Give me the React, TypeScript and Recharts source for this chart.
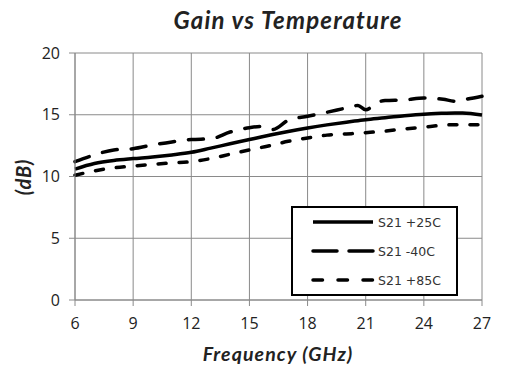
import React from "react";
import { LineChart, Line, XAxis, YAxis, CartesianGrid } from "recharts";

const freqGHz = [6, 7, 8, 9, 10, 11, 12, 13, 14, 15, 15.6, 16.2, 17, 18, 19, 20, 20.6, 21, 21.6, 22, 23, 24, 25, 25.6, 26, 27];
const s21p25 = [10.6, 11.05, 11.3, 11.45, 11.58, 11.75, 11.96, 12.3, 12.65, 12.99, 13.2, 13.4, 13.65, 13.93, 14.18, 14.4, 14.52, 14.6, 14.7, 14.76, 14.92, 15.05, 15.12, 15.15, 15.14, 14.98];
const s21m40 = [11.2, 11.75, 12.15, 12.25, 12.55, 12.8, 13.0, 13.05, 13.6, 13.95, 14.05, 13.8, 14.55, 14.88, 15.2, 15.55, 15.75, 15.4, 16.0, 16.15, 16.2, 16.35, 16.25, 16.1, 16.2, 16.5];
const s21p85 = [10.1, 10.45, 10.7, 10.85, 10.98, 11.1, 11.2, 11.45, 11.8, 12.15, 12.35, 12.55, 12.85, 13.12, 13.35, 13.45, 13.5, 13.55, 13.62, 13.68, 13.85, 14.0, 14.15, 14.2, 14.2, 14.2];
const xTicks = [6, 9, 12, 15, 18, 21, 24, 27];
const yTicks = [0, 5, 10, 15, 20];
const seriesNames = ["S21 +25C", "S21 -40C", "S21 +85C"];

const data = freqGHz.map((f, i) => ({ f, a: s21p25[i], b: s21m40[i], c: s21p85[i] }));

const FONT = "Lato, 'Open Sans', sans-serif";
const TICKFONT = "'Open Sans', sans-serif";

const legendDash = ["", "24 12", "9.5 15.5"];

export default function App() {
  return (
    <div style={{ position: "absolute", left: 0, top: 0, width: 519, height: 379, background: "#fff" }}>
      <LineChart
        width={519}
        height={379}
        data={data}
        margin={{ top: 53, right: 37, bottom: 0, left: 0 }}
      >
        <CartesianGrid stroke="#8a8a8a" strokeWidth={1} />
        <XAxis
          dataKey="f"
          type="number"
          domain={[6, 27]}
          ticks={xTicks}
          height={79}
          stroke="#8a8a8a"
          tickSize={6}
          tickMargin={12}
          tick={{ fill: "#222", fontSize: 16, fontFamily: TICKFONT }}
        />
        <YAxis
          type="number"
          domain={[0, 20]}
          ticks={yTicks}
          width={75}
          stroke="#8a8a8a"
          tickSize={6}
          tickMargin={9}
          tick={{ fill: "#222", fontSize: 16, fontFamily: TICKFONT }}
        />
        <Line dataKey="a" type="monotone" stroke="#000" strokeWidth={3.5} dot={false} isAnimationActive={false} />
        <Line dataKey="b" type="monotone" stroke="#000" strokeWidth={3.5} strokeDasharray="15 14" strokeLinecap="round" dot={false} isAnimationActive={false} />
        <Line dataKey="c" type="monotone" stroke="#000" strokeWidth={3.5} strokeDasharray="8 13" strokeLinecap="round" dot={false} isAnimationActive={false} />
      </LineChart>
      <div style={{ position: "absolute", left: 0, top: 6, width: 576, textAlign: "center", fontFamily: FONT, fontWeight: 700, fontStyle: "italic", fontSize: 24, letterSpacing: 1.2, color: "#222", lineHeight: "28px" }}>
        Gain vs Temperature
      </div>
      <div style={{ position: "absolute", left: 0, top: 342, width: 556, textAlign: "center", fontFamily: FONT, fontWeight: 700, fontStyle: "italic", fontSize: 19.5, letterSpacing: 1.1, color: "#222", lineHeight: "24px" }}>
        Frequency (GHz)
      </div>
      <div style={{ position: "absolute", left: 23, top: 177, width: 0, height: 0 }}>
        <div style={{ position: "absolute", left: -40, top: -12, width: 80, textAlign: "center", transform: "rotate(-90deg)", fontFamily: FONT, fontWeight: 700, fontStyle: "italic", fontSize: 20, letterSpacing: 0.8, color: "#222", lineHeight: "24px" }}>
          (dB)
        </div>
      </div>
      <div style={{ position: "absolute", left: 291, top: 206, width: 163, height: 86, border: "2px solid #000", background: "#fff" }}>
        <svg width={163} height={86} style={{ position: "absolute", left: 0, top: 0 }}>
          {seriesNames.map((n, i) => (
            <g key={n}>
              <line x1={20} x2={80} y1={14 + i * 29} y2={14 + i * 29} stroke="#000" strokeWidth={3.5} strokeDasharray={legendDash[i] || undefined} strokeLinecap={i === 0 ? "butt" : "round"} />
              <text x={85} y={18.5 + i * 29} fontFamily="'DejaVu Sans', sans-serif" fontSize={12.5} fill="#333">{n}</text>
            </g>
          ))}
        </svg>
      </div>
    </div>
  );
}
